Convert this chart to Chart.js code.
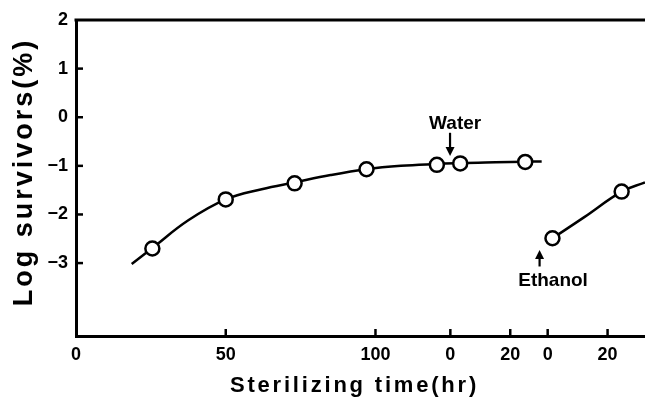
<!DOCTYPE html>
<html><head><meta charset="utf-8">
<script src="https://cdn.jsdelivr.net/npm/chart.js@4"></script>
<style>html,body{margin:0;padding:0;background:#fff}canvas{display:block}</style>
</head><body>
<canvas id="c" width="645" height="398"></canvas>
<script>
// Axis layout: one continuous hour axis; the clock restarts at water / ethanol addition
const tickPositions = [0, 50, 100, 125, 145, 157.5, 177.5];
const tickLabels = ['0', '50', '100', '0', '20', '0', '20'];
const yTicks = [2, 1, 0, -1, -2, -3];

// Measured points (x in axis hours)
const heatHours = [25.5, 50, 73, 97, 120.5];
const heatLog = [-2.70, -1.69, -1.36, -1.07, -0.98];
const waterHours = [128.3, 150];
const waterLog = [-0.95, -0.92];
const ethanolHours = [159.1, 182.2];
const ethanolLog = [-2.49, -1.53];

// Fitted curves
const fitHours = [18.6, 25.5, 37.5, 50, 62, 73, 85, 97, 108.5, 120.5, 128.3, 140, 150, 155.5];
const fitLog = [-3.02, -2.69, -2.12, -1.69, -1.48, -1.34, -1.19, -1.07, -1.00, -0.96, -0.94, -0.925, -0.915, -0.91];
const ethFitHours = [159.1, 169.6, 182.2, 190];
const ethFitLog = [-2.49, -2.06, -1.53, -1.34];

// Annotations
const notes = ['Water', 'Ethanol'];
const noteX = [126.6, 159.3];
const noteY = [-0.13, -3.37];
const arrowX = [124.9, 154.8];
const arrowFrom = [-0.32, -3.07];
const arrowTo = [-0.80, -2.73];

const pts = (xs, ys) => xs.map((v, i) => ({x: v, y: ys[i]}));
const FONT = '"Liberation Sans", Arial, sans-serif';

const pointStyle = {
  type: 'scatter', showLine: false, pointRadius: 7, pointHoverRadius: 7,
  pointBackgroundColor: '#fff', pointBorderColor: '#000', pointBorderWidth: 2.5, order: 0
};
const lineStyle = {
  type: 'line', showLine: true, pointRadius: 0, borderColor: '#000', borderWidth: 2.5,
  tension: 0.4, fill: false, order: 1
};

const extras = {
  id: 'extras',
  beforeDraw(chart) {
    ['x', 'y'].forEach(id => {
      const s = chart.scales[id];
      if (s._patched) return;
      const orig = s.drawTitle;
      s.drawTitle = function () {
        const c = this.ctx;
        c.save();
        c.letterSpacing = id === 'y' ? '3px' : '2.8px';
        if (id === 'y') c.translate(0, -6); else c.translate(-6, 1);
        orig.apply(this, arguments);
        c.restore();
      };
      s._patched = true;
    });
  },
  afterDraw(chart) {
    const {ctx, chartArea: a, scales: {x, y}} = chart;
    ctx.save();
    ctx.strokeStyle = '#000';
    ctx.fillStyle = '#000';
    ctx.lineWidth = 3;
    ctx.beginPath(); ctx.moveTo(a.left - 1.5, a.top); ctx.lineTo(a.right, a.top); ctx.stroke();
    ctx.lineWidth = 2.5;
    yTicks.forEach(v => {
      if (v === 2) return;
      const py = y.getPixelForValue(v);
      ctx.beginPath(); ctx.moveTo(a.left, py); ctx.lineTo(a.left + 7, py); ctx.stroke();
    });
    tickPositions.forEach(v => {
      if (v === 0) return;
      const px = x.getPixelForValue(v);
      ctx.beginPath(); ctx.moveTo(px, a.bottom); ctx.lineTo(px, a.bottom - 7); ctx.stroke();
    });
    ctx.font = 'bold 19px ' + FONT;
    ctx.textAlign = 'center';
    ctx.textBaseline = 'middle';
    notes.forEach((t, i) => {
      ctx.fillText(t, x.getPixelForValue(noteX[i]), y.getPixelForValue(noteY[i]));
      const ax = x.getPixelForValue(arrowX[i]);
      const y0 = y.getPixelForValue(arrowFrom[i]);
      const y1 = y.getPixelForValue(arrowTo[i]);
      const dir = Math.sign(y1 - y0);
      ctx.lineWidth = 2.2;
      ctx.beginPath(); ctx.moveTo(ax, y0); ctx.lineTo(ax, y1 - dir * 6); ctx.stroke();
      ctx.beginPath(); ctx.moveTo(ax, y1); ctx.lineTo(ax - 4.5, y1 - dir * 9); ctx.lineTo(ax + 4.5, y1 - dir * 9); ctx.closePath(); ctx.fill();
    });
    ctx.restore();
  }
};

new Chart(document.getElementById('c'), {
  data: {
    datasets: [
      Object.assign({label: 'Heat', data: pts(heatHours, heatLog)}, pointStyle),
      Object.assign({label: 'Water', data: pts(waterHours, waterLog)}, pointStyle),
      Object.assign({label: 'Ethanol', data: pts(ethanolHours, ethanolLog)}, pointStyle),
      Object.assign({label: 'Fit', data: pts(fitHours, fitLog)}, lineStyle),
      Object.assign({label: 'Ethanol fit', data: pts(ethFitHours, ethFitLog)}, lineStyle)
    ]
  },
  options: {
    responsive: false,
    animation: false,
    devicePixelRatio: 1,
    layout: {autoPadding: false, padding: {top: 20, left: 0, right: 0, bottom: 0}},
    plugins: {legend: {display: false}, tooltip: {enabled: false}},
    scales: {
      x: {
        type: 'linear', min: 0, max: 190,
        afterFit: s => { s.height = 62; s.paddingLeft = 0; s.paddingRight = 0; },
        afterBuildTicks: s => { s.ticks = tickPositions.map(v => ({value: v})); },
        grid: {display: false, drawTicks: false},
        border: {display: true, color: '#000', width: 3},
        ticks: {
          color: '#000', padding: 8, maxRotation: 0, autoSkip: false,
          font: {family: FONT, size: 18, weight: 'bold'},
          callback: (v, i) => tickLabels[i]
        },
        title: {
          display: true, text: 'Sterilizing time(hr)', color: '#000',
          font: {family: FONT, size: 22, weight: 'bold'}, padding: {top: 0, bottom: 0}
        }
      },
      y: {
        type: 'linear', min: -4.5, max: 2,
        afterFit: s => { s.width = 76; s.paddingTop = 0; s.paddingBottom = 0; },
        afterBuildTicks: s => { s.ticks = yTicks.map(v => ({value: v})); },
        grid: {display: false, drawTicks: false},
        border: {display: true, color: '#000', width: 3},
        ticks: {
          color: '#000', padding: 8, autoSkip: false,
          font: {family: FONT, size: 18, weight: 'bold'},
          callback: v => (v < 0 ? '\u2212' + Math.abs(v) : String(v))
        },
        title: {
          display: true, text: 'Log survivors(%)', color: '#000',
          font: {family: FONT, size: 27, weight: 'bold'}, padding: {top: 8, bottom: 0}
        }
      }
    }
  },
  plugins: [extras]
});
</script>
</body></html>
